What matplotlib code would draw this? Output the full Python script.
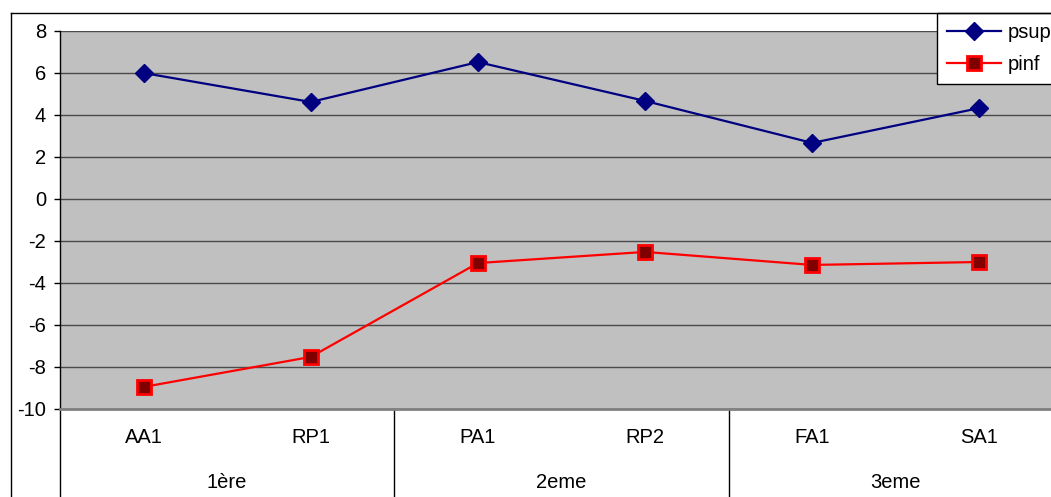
import matplotlib
matplotlib.use("Agg")
import matplotlib.pyplot as plt
from matplotlib.lines import Line2D
import matplotlib.transforms as mtransforms

plt.rcParams['font.family'] = ['Liberation Sans', 'DejaVu Sans']

categories = ["AA1", "RP1", "PA1", "RP2", "FA1", "SA1"]
groups = ["1ère", "2eme", "3eme"]
psup = [6.0, 4.62, 6.52, 4.67, 2.67, 4.33]
pinf = [-8.95, -7.52, -3.05, -2.52, -3.14, -3.0]
yticks = [-10, -8, -6, -4, -2, 0, 2, 4, 6, 8]

W, H = 1051, 497
FS = 14.5
fig = plt.figure(figsize=(W / 100, H / 100), dpi=100)
fig.patch.set_facecolor('white')

# outer chart border (partially visible)
fig.add_artist(Line2D([11 / W, 11 / W], [0, 1 - 13 / H], color='black', lw=1.0))
fig.add_artist(Line2D([11 / W, 1], [1 - 13 / H, 1 - 13 / H], color='black', lw=1.0))

left, right, top, bottom = 60, 1063, 31, 409
ax = fig.add_axes([left / W, 1 - bottom / H, (right - left) / W, (bottom - top) / H])
ax.set_facecolor('#C0C0C0')
ax.set_xlim(-0.5, len(categories) - 0.5)
ax.set_ylim(-10, 8)
ax.set_yticks(yticks)
ax.set_yticklabels([str(v) for v in yticks], fontsize=FS)
ax.yaxis.grid(True, color='#4a4a4a', lw=1.0)
ax.set_axisbelow(True)
ax.tick_params(axis='y', direction='out', length=4, width=1, color='black', pad=6)

for s in ['top', 'right']:
    ax.spines[s].set_visible(False)
ax.spines['left'].set_color('black')
ax.spines['left'].set_linewidth(1.0)
ax.spines['bottom'].set_color('#808080')
ax.spines['bottom'].set_linewidth(2.0)

x = list(range(len(categories)))
ax.plot(x, psup, color='#000080', lw=1.6, marker='D', ms=9,
        mfc='#000080', mec='#000080', label='psup', zorder=3)
ax.plot(x, pinf, color='#FF0000', lw=1.6, marker='s', ms=9.5,
        mfc='#800000', mec='#FF0000', mew=2, label='pinf', zorder=3)

ax.set_xticks(x)
ax.set_xticklabels(categories, fontsize=FS)
ax.tick_params(axis='x', length=0, pad=14)

# group separators and labels
trans = mtransforms.blended_transform_factory(ax.transData, ax.transAxes)
axh = bottom - top
drop = (H - bottom) / axh
for xs in [-0.5, 1.5, 3.5, 5.5]:
    ax.add_artist(Line2D([xs, xs], [0, -drop], transform=trans, color='black',
                         lw=1.0, clip_on=False))
for i, g in enumerate(groups):
    ax.text(2 * i + 0.5, -(483 - bottom) / axh, g, transform=trans, ha='center',
            va='center', fontsize=FS)

leg = ax.legend(loc='upper left', bbox_to_anchor=(937 / W, 1 - 13 / H),
                bbox_transform=fig.transFigure, fontsize=FS, frameon=True,
                fancybox=False, edgecolor='black', framealpha=1, handlelength=2.7,
                borderpad=0.5, labelspacing=0.65, handletextpad=0.3,
                borderaxespad=0)
leg.get_frame().set_linewidth(1.0)

fig.savefig('out.png', dpi=100)
